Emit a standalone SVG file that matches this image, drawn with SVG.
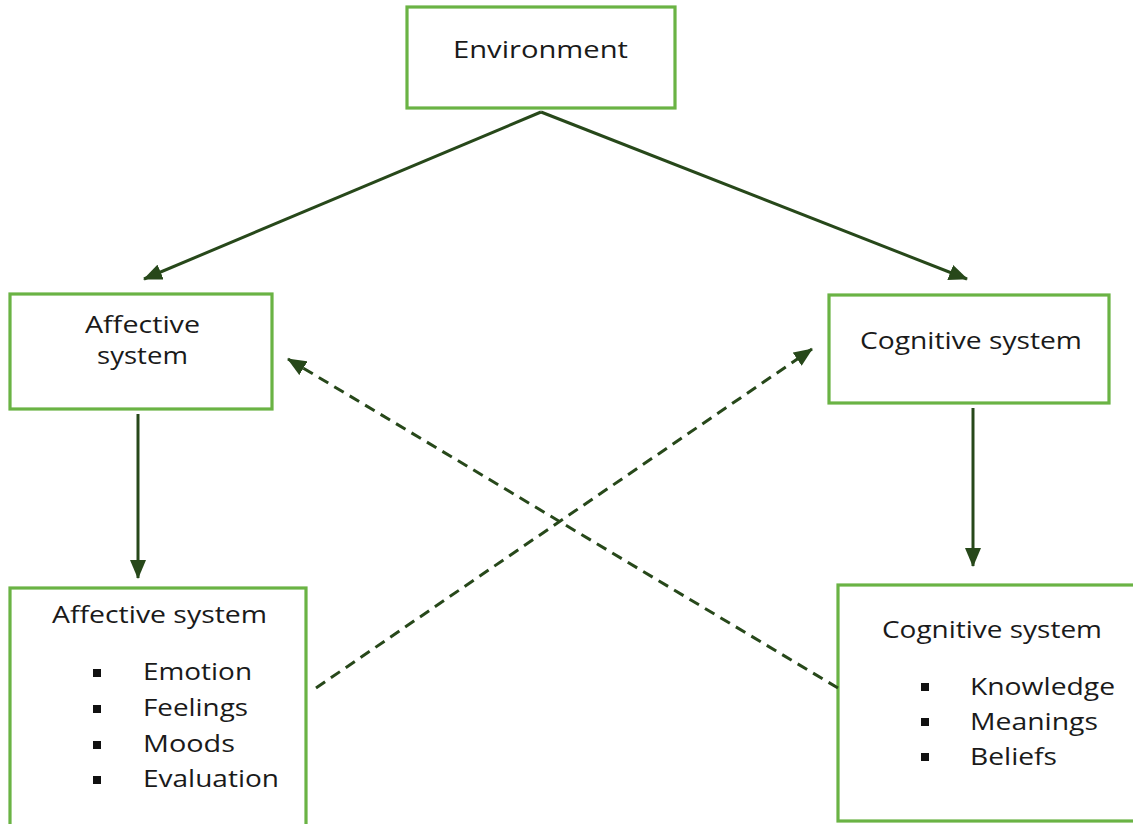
<svg xmlns="http://www.w3.org/2000/svg" width="1133" height="824" viewBox="0 0 1133 824">
<style>
.box{fill:#ffffff;stroke:#6ab344;stroke-width:3.2}
.t{font-family:"Open Sans","Liberation Sans",sans-serif;font-size:23px;font-weight:500;fill:#1a1a1a}
.ln{stroke:#27481a;stroke-width:3;fill:none}
.dash{stroke-dasharray:11 7}
.bul{fill:#111111}
</style>
<defs>
<marker id="ah" viewBox="0 0 19 16" refX="18" refY="8" markerWidth="19" markerHeight="16" markerUnits="userSpaceOnUse" orient="auto">
<path d="M0,0 L19,8 L0,16 Z" fill="#27481a"/>
</marker>
</defs>
<rect width="1133" height="824" fill="#ffffff"/>
<g id="environment">
<rect class="box" x="407" y="7" width="268" height="101"/>
<text class="t" x="453" y="58" textLength="175" lengthAdjust="spacingAndGlyphs">Environment</text>
</g>
<g id="affective-top">
<rect class="box" x="10" y="294" width="262" height="115"/>
<text class="t" x="85" y="333" textLength="115" lengthAdjust="spacingAndGlyphs">Affective</text>
<text class="t" x="97" y="364" textLength="91" lengthAdjust="spacingAndGlyphs">system</text>
</g>
<g id="cognitive-top">
<rect class="box" x="829" y="295" width="280" height="108"/>
<text class="t" x="860" y="349" textLength="222" lengthAdjust="spacingAndGlyphs">Cognitive system</text>
</g>
<g id="affective-bottom">
<rect class="box" x="10" y="588" width="296" height="250"/>
<text class="t" x="52" y="623" textLength="215" lengthAdjust="spacingAndGlyphs">Affective system</text>
<rect class="bul" x="93" y="669" width="8" height="8"/>
<rect class="bul" x="93" y="705" width="8" height="8"/>
<rect class="bul" x="93" y="741" width="8" height="8"/>
<rect class="bul" x="93" y="776" width="8" height="8"/>
<text class="t" x="143" y="680" textLength="109" lengthAdjust="spacingAndGlyphs">Emotion</text>
<text class="t" x="143" y="716" textLength="105" lengthAdjust="spacingAndGlyphs">Feelings</text>
<text class="t" x="143" y="752" textLength="92" lengthAdjust="spacingAndGlyphs">Moods</text>
<text class="t" x="143" y="787" textLength="136" lengthAdjust="spacingAndGlyphs">Evaluation</text>
</g>
<g id="cognitive-bottom">
<rect class="box" x="838" y="585" width="310" height="236"/>
<text class="t" x="882" y="638" textLength="220" lengthAdjust="spacingAndGlyphs">Cognitive system</text>
<rect class="bul" x="921" y="683" width="8" height="8"/>
<rect class="bul" x="921" y="718" width="8" height="8"/>
<rect class="bul" x="921" y="753" width="8" height="8"/>
<text class="t" x="970" y="695" textLength="145" lengthAdjust="spacingAndGlyphs">Knowledge</text>
<text class="t" x="970" y="730" textLength="128" lengthAdjust="spacingAndGlyphs">Meanings</text>
<text class="t" x="970" y="765" textLength="87" lengthAdjust="spacingAndGlyphs">Beliefs</text>
</g>
<g id="connectors">
<line class="ln" x1="541" y1="112" x2="144" y2="279" marker-end="url(#ah)"/>
<line class="ln" x1="541" y1="112" x2="967" y2="279" marker-end="url(#ah)"/>
<line class="ln" x1="138" y1="414" x2="138" y2="578" marker-end="url(#ah)"/>
<line class="ln" x1="973" y1="408" x2="973" y2="566" marker-end="url(#ah)"/>
<line class="ln dash" x1="316" y1="688" x2="812" y2="349" marker-end="url(#ah)"/>
<line class="ln dash" x1="838" y1="688" x2="288" y2="359" marker-end="url(#ah)"/>
</g>
</svg>
